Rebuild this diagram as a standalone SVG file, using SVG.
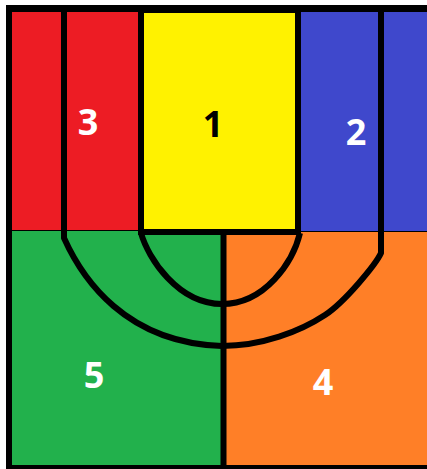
<svg xmlns="http://www.w3.org/2000/svg" width="427" height="469" viewBox="0 0 427 469">
<style>
.lbl{font-family:"Open Sans","Liberation Sans",sans-serif;font-weight:bold;font-size:36px;text-anchor:middle}
.w{fill:#ffffff}
.k{fill:#000000}
.ln{fill:none;stroke:#000;stroke-width:6;stroke-linejoin:round}
</style>
<rect x="0" y="0" width="427" height="469" fill="#ffffff"/>
<rect x="6" y="5" width="421" height="464" fill="#000"/>
<g id="region3">
<rect x="12" y="12" width="127" height="218" fill="#ED1C24"/>
</g>
<g id="region2">
<rect x="300" y="12" width="127" height="219" fill="#3F48CC"/>
</g>
<g id="region5">
<rect x="12" y="231" width="212" height="234" fill="#22B14C"/>
</g>
<g id="region4">
<rect x="223" y="232" width="204" height="233" fill="#FF7F27"/>
</g>
<g id="region1">
<rect x="141" y="10" width="157" height="222" fill="#FFF200" stroke="#000" stroke-width="6"/>
</g>
<g id="connectors">
<path class="ln" d="M64,12 V238 C82,278 125,343 222,346 C262,346 300,331.5 325,315 C345,301.8 376,264 381,253 V12"/>
<path class="ln" d="M141,233 C148,258 178,304 222,304 C265,304 293,262 300,233"/>
<path class="ln" d="M223.5,233 V466"/>
</g>
<g id="labels">
<text class="lbl w" x="88" y="135">3</text>
<text class="lbl k" x="213" y="137">1</text>
<text class="lbl w" x="356" y="145">2</text>
<text class="lbl w" x="94" y="388">5</text>
<text class="lbl w" x="323" y="395">4</text>
</g>
</svg>
